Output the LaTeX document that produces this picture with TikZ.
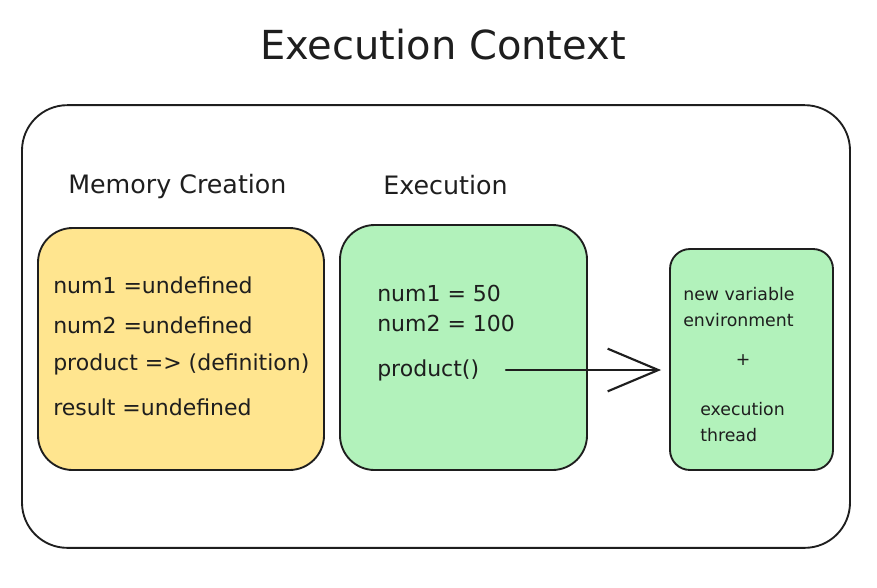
\documentclass[tikz,border=0pt]{standalone}
\usepackage{fontspec}
\setmainfont{DejaVu Sans}
\usetikzlibrary{arrows.meta}
\definecolor{memyellow}{HTML}{FFE58F}
\definecolor{execgreen}{HTML}{B2F2BB}
\definecolor{ink}{HTML}{1E1E1E}
\tikzset{
  box/.style={draw=ink, line width=1.4pt, rounded corners=#1},
  code/.style={anchor=west, inner sep=0pt, text=ink, font=\fontsize{16.5}{19}\selectfont},
  note/.style={inner sep=0pt, text=ink, align=left, font=\fontsize{13}{19}\selectfont},
  heading/.style={anchor=west, inner sep=0pt, text=ink, font=\fontsize{19}{23}\selectfont},
}
\begin{document}
\begin{tikzpicture}[x=0.75pt, y=-0.75pt, line cap=round, line join=round]
    \useasboundingbox (0,0) rectangle (877,587);
    \node[text=ink, font=\fontsize{30}{36}\selectfont] (title) at (443,45) {Execution Context};
    % outer frame and the three boxes
    \node[box=34pt, minimum width=621pt, minimum height=332pt] (ctx) at (436,326.5) {};
    \node[box=26pt, fill=memyellow, minimum width=214.5pt, minimum height=181.5pt] (mem) at (181,349) {};
    \node[box=26pt, fill=execgreen, minimum width=185.25pt, minimum height=183.75pt] (exec) at (463.5,347.5) {};
    \node[box=15pt, fill=execgreen, minimum width=122.25pt, minimum height=165.75pt] (env) at (751.5,359.5) {};
    \node[heading] (memlabel) at (68,187) {Memory Creation};
    \node[heading] (execlabel) at (383,185) {Execution};
    \foreach \y/\t [count=\i] in {285/{num1 =undefined}, 325/{num2 =undefined}, 364/{product => (definition)}, 407/{result =undefined}}
      \node[code] (mem\i) at (53,\y) {\t};
    \node[code] (num1) at (377,293) {num1 = 50};
    \node[code] (num2) at (377,323) {num2 = 100};
    \node[code] (call) at (377,370) {product()};
    \node[note, anchor=west] (newenv) at (683,307) {new variable\\environment};
    \node[note] (plus) at (743,360) {+};
    \node[note, anchor=west] (thread) at (700,422) {execution\\thread};
    \draw[ink, line width=1.6pt, shorten <=20pt, shorten >=6pt, -{Straight Barb[length=38pt,width=32pt]}] (call.east) -- (call.east -| env.west);
\end{tikzpicture}
\end{document}
